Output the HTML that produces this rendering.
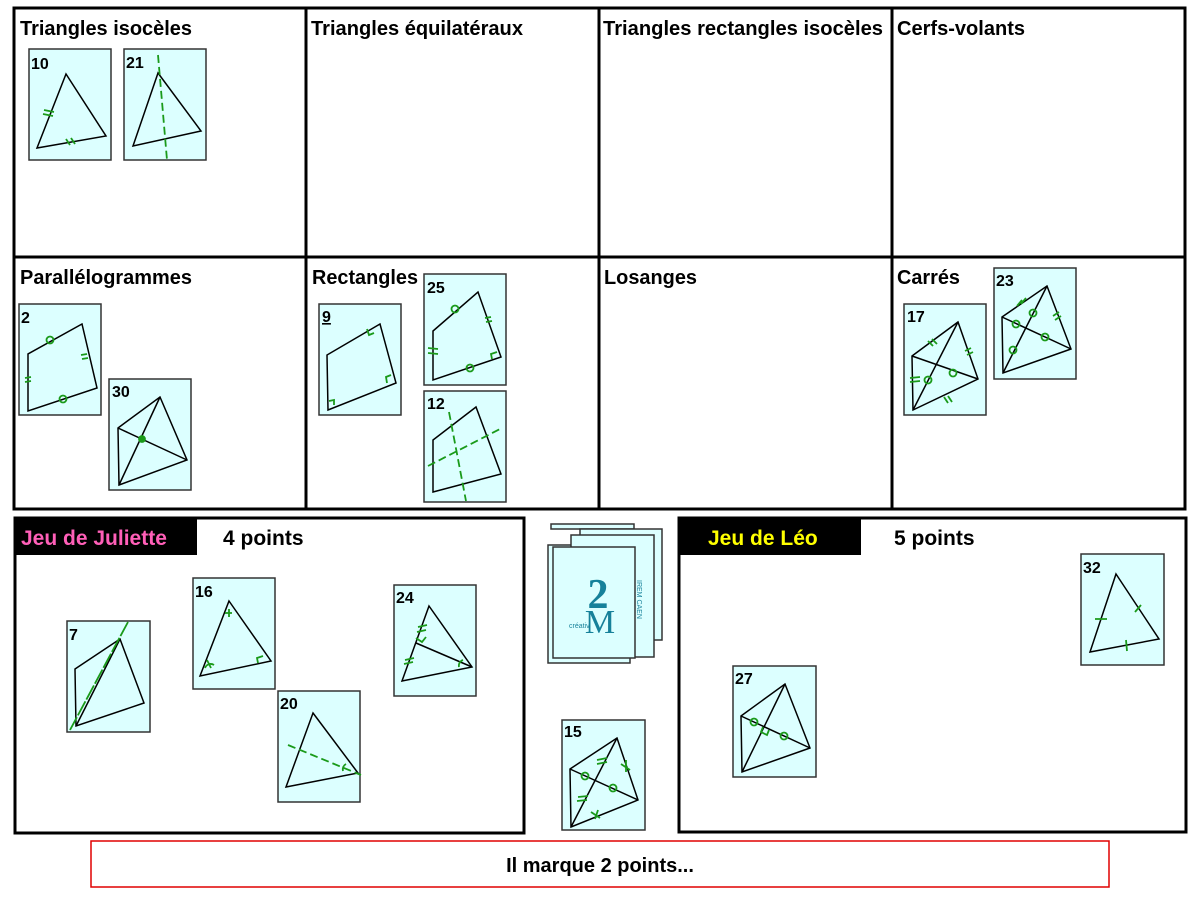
<!DOCTYPE html>
<html><head><meta charset="utf-8"><style>html,body{margin:0;padding:0;background:#fff}svg{display:block}</style></head><body>
<svg width="1200" height="900" viewBox="0 0 1200 900" xmlns="http://www.w3.org/2000/svg" font-family="Liberation Sans, sans-serif">
<rect width="1200" height="900" fill="#fff"/>
<g fill="none" stroke="#000" stroke-width="3">
<rect x="14" y="8" width="1171" height="501"/>
<line x1="14" y1="257" x2="1185" y2="257"/>
<line x1="306" y1="8" x2="306" y2="509"/>
<line x1="599" y1="8" x2="599" y2="509"/>
<line x1="892" y1="8" x2="892" y2="509"/>
</g>
<g font-weight="bold" font-size="20" fill="#000">
<text x="20" y="35" textLength="172" lengthAdjust="spacingAndGlyphs">Triangles isocèles</text>
<text x="311" y="35" textLength="212" lengthAdjust="spacingAndGlyphs">Triangles équilatéraux</text>
<text x="603" y="35" textLength="280" lengthAdjust="spacingAndGlyphs">Triangles rectangles isocèles</text>
<text x="897" y="35" textLength="128" lengthAdjust="spacingAndGlyphs">Cerfs-volants</text>
<text x="20" y="284" textLength="172" lengthAdjust="spacingAndGlyphs">Parallélogrammes</text>
<text x="312" y="284" textLength="106" lengthAdjust="spacingAndGlyphs">Rectangles</text>
<text x="604" y="284" textLength="93" lengthAdjust="spacingAndGlyphs">Losanges</text>
<text x="897" y="284" textLength="63" lengthAdjust="spacingAndGlyphs">Carrés</text>
</g>
<g fill="none" stroke="#000" stroke-width="3">
<rect x="15" y="518" width="509" height="315"/>
<rect x="679" y="518" width="507" height="314"/>
</g>
<rect x="15" y="518" width="182" height="37" fill="#000"/>
<rect x="679" y="518" width="182" height="37" fill="#000"/>
<g font-weight="bold" font-size="21">
<text x="21" y="545" fill="#ff5fb8">Jeu de Juliette</text>
<text x="223" y="545" fill="#000">4 points</text>
<text x="708" y="545" fill="#ffff00">Jeu de Léo</text>
<text x="894" y="545" fill="#000">5 points</text>
</g>
<rect x="91" y="841" width="1018" height="46" fill="#fff" stroke="#e00000" stroke-width="1.5"/>
<text x="600" y="872" text-anchor="middle" font-weight="bold" font-size="20">Il marque 2 points...</text>

<g fill="#dcffff" stroke="#333" stroke-width="1.5">
<rect x="29" y="49" width="82" height="111"/>
<rect x="124" y="49" width="82" height="111"/>
<rect x="19" y="304" width="82" height="111"/>
<rect x="109" y="379" width="82" height="111"/>
<rect x="319" y="304" width="82" height="111"/>
<rect x="424" y="274" width="82" height="111"/>
<rect x="424" y="391" width="82" height="111"/>
<rect x="904" y="304" width="82" height="111"/>
<rect x="994" y="268" width="82" height="111"/>
<rect x="67" y="621" width="83" height="111"/>
<rect x="193" y="578" width="82" height="111"/>
<rect x="278" y="691" width="82" height="111"/>
<rect x="394" y="585" width="82" height="111"/>
<rect x="562" y="720" width="83" height="110"/>
<rect x="733" y="666" width="83" height="111"/>
<rect x="1081" y="554" width="83" height="111"/>
<rect x="548" y="545" width="82" height="118"/>
<rect x="551" y="524" width="83" height="5" />
<rect x="580" y="529" width="82" height="111"/>
<rect x="571" y="535" width="83" height="122"/>
<rect x="553" y="547" width="82" height="111"/>
</g>
<text x="598" y="608" text-anchor="middle" font-family="Liberation Serif, serif" font-weight="bold" font-size="42" fill="#16819a">2</text>
<text x="600" y="633" text-anchor="middle" font-family="Liberation Serif, serif" font-size="34" fill="#16819a">M</text>
<text x="569" y="628" font-size="7" fill="#16819a">créativ</text>
<text x="637" y="580" font-size="7" fill="#16819a" transform="rotate(90 637 580)">IREM CAEN</text>

<g font-weight="bold" font-size="16" fill="#000">
<text x="31" y="69">10</text><text x="126" y="68">21</text>
<text x="21" y="323">2</text><text x="112" y="397">30</text>
<text x="322" y="322" text-decoration="underline">9</text><text x="427" y="293">25</text>
<text x="427" y="409">12</text><text x="907" y="322">17</text>
<text x="996" y="286">23</text><text x="69" y="640">7</text>
<text x="195" y="597">16</text><text x="280" y="709">20</text>
<text x="396" y="603">24</text><text x="564" y="737">15</text>
<text x="735" y="684">27</text><text x="1083" y="573">32</text>
</g>

<g fill="none" stroke="#000" stroke-width="1.5">
<polygon points="37,148 66,74 106,136"/>
<polygon points="133,146 158,73 201,131"/>
<polygon points="28,411 28,354 82,324 97,388"/>
<polygon points="118,428 160,397 187,460 119,485"/>
<line x1="118" y1="428" x2="187" y2="460"/><line x1="160" y1="397" x2="119" y2="485"/>
<polygon points="328,410 327,355 380,324 396,383"/>
<polygon points="433,380 433,331 478,292 501,357"/>
<polygon points="433,492 433,440 476,407 501,474"/>
<polygon points="912,356 958,322 978,379 913,410"/>
<line x1="912" y1="356" x2="978" y2="379"/><line x1="958" y1="322" x2="913" y2="410"/>
<polygon points="1002,317 1047,286 1071,349 1003,373"/>
<line x1="1002" y1="317" x2="1071" y2="349"/><line x1="1047" y1="286" x2="1003" y2="373"/>
<polygon points="75,669 120,639 144,703 76,726"/>
<line x1="120" y1="639" x2="76" y2="726"/>
<polygon points="229,601 271,661 200,676"/>
<polygon points="313,713 358,773 286,787"/>
<polygon points="429,606 472,667 402,681"/>
<line x1="416" y1="643" x2="472" y2="667"/>
<polygon points="570,769 617,738 638,800 571,827"/>
<line x1="570" y1="769" x2="638" y2="800"/><line x1="617" y1="738" x2="571" y2="827"/>
<polygon points="741,716 785,684 810,748 742,772"/>
<line x1="741" y1="716" x2="810" y2="748"/><line x1="785" y1="684" x2="742" y2="772"/>
<polygon points="1116,574 1159,639 1090,652"/>
</g>

<g fill="none" stroke="#1a9a1a" stroke-width="1.8">
<line x1="158" y1="55" x2="167" y2="160" stroke-dasharray="8,4"/>
<line x1="449" y1="412" x2="466" y2="501" stroke-dasharray="8,4"/>
<line x1="428" y1="466" x2="500" y2="429" stroke-dasharray="8,4"/>
<line x1="128" y1="622" x2="70" y2="730" stroke-dasharray="16,2"/>
<line x1="288" y1="745" x2="361" y2="775" stroke-dasharray="8,4"/>
<path d="M44,110 l10,2 M43,114 l10,2"/>
<path d="M66,139 l4,6 M71,138 l4,6"/>
<circle cx="50" cy="340" r="3.5"/><circle cx="63" cy="399" r="3.5"/>
<path d="M25,378 l6,-1 M25,382 l6,-1 M81,355 l6,-1 M82,359 l6,-1"/>
<circle cx="455" cy="309" r="3.5"/><circle cx="470" cy="368" r="3.5"/>
<path d="M428,348 l10,1 M428,353 l10,1 M485,318 l6,-1 M486,322 l6,-1"/>
<path d="M367,329 l2,6 l5,-2 M391,375 l-5,2 l1,6 M329,401 l5,-1 l0,5 M492,359 l-1,-5 l6,-2"/>
<path d="M416,638 l6,4 l4,-5"/>
<path d="M258,663 l-1,-5 l6,-2"/>
<path d="M225,613 l7,0 M229,609 l0,8 M205,668 a6,6 0 0 1 9,-3 M207,660 l4,8"/>
<path d="M343,771 a6,6 0 0 1 3,-7"/>
<path d="M459,667 a6,6 0 0 1 4,-7"/>
<path d="M418,627 l9,-2 M417,632 l9,-2 M405,660 l9,-2 M404,664 l9,-2"/>
<circle cx="142" cy="439" r="3" fill="#1a9a1a"/>
<circle cx="928" cy="380" r="3.5"/><circle cx="953" cy="373" r="3.5"/>
<path d="M928,341 l5,5 M932,339 l5,5 M965,351 l6,-3 M967,355 l6,-3 M910,378 l10,-1 M910,382 l10,-1 M944,397 l4,6 M948,396 l4,6"/>
<circle cx="1016" cy="324" r="3.5"/><circle cx="1033" cy="313" r="3.5"/><circle cx="1045" cy="337" r="3.5"/><circle cx="1013" cy="350" r="3.5"/>
<path d="M1017,306 l5,-6 M1021,304 l5,-6 M1053,316 l6,-4 M1055,320 l6,-4"/>
<circle cx="585" cy="776" r="3.5"/><circle cx="613" cy="788" r="3.5"/>
<path d="M597,760 l10,-2 M597,764 l10,-2 M578,797 l10,-1 M577,801 l10,-1 M621,764 l9,6 M626,760 l0,12 M591,812 l9,6 M598,810 l-3,9"/>
<circle cx="754" cy="722" r="3.5"/><circle cx="784" cy="736" r="3.5"/>
<path d="M763,727 l-2,5 l6,3 l2,-5"/>
<path d="M1095,619 l12,0 M1135,612 l6,-7 M1126,640 l1,11"/>
</g>
</svg>
</body></html>
